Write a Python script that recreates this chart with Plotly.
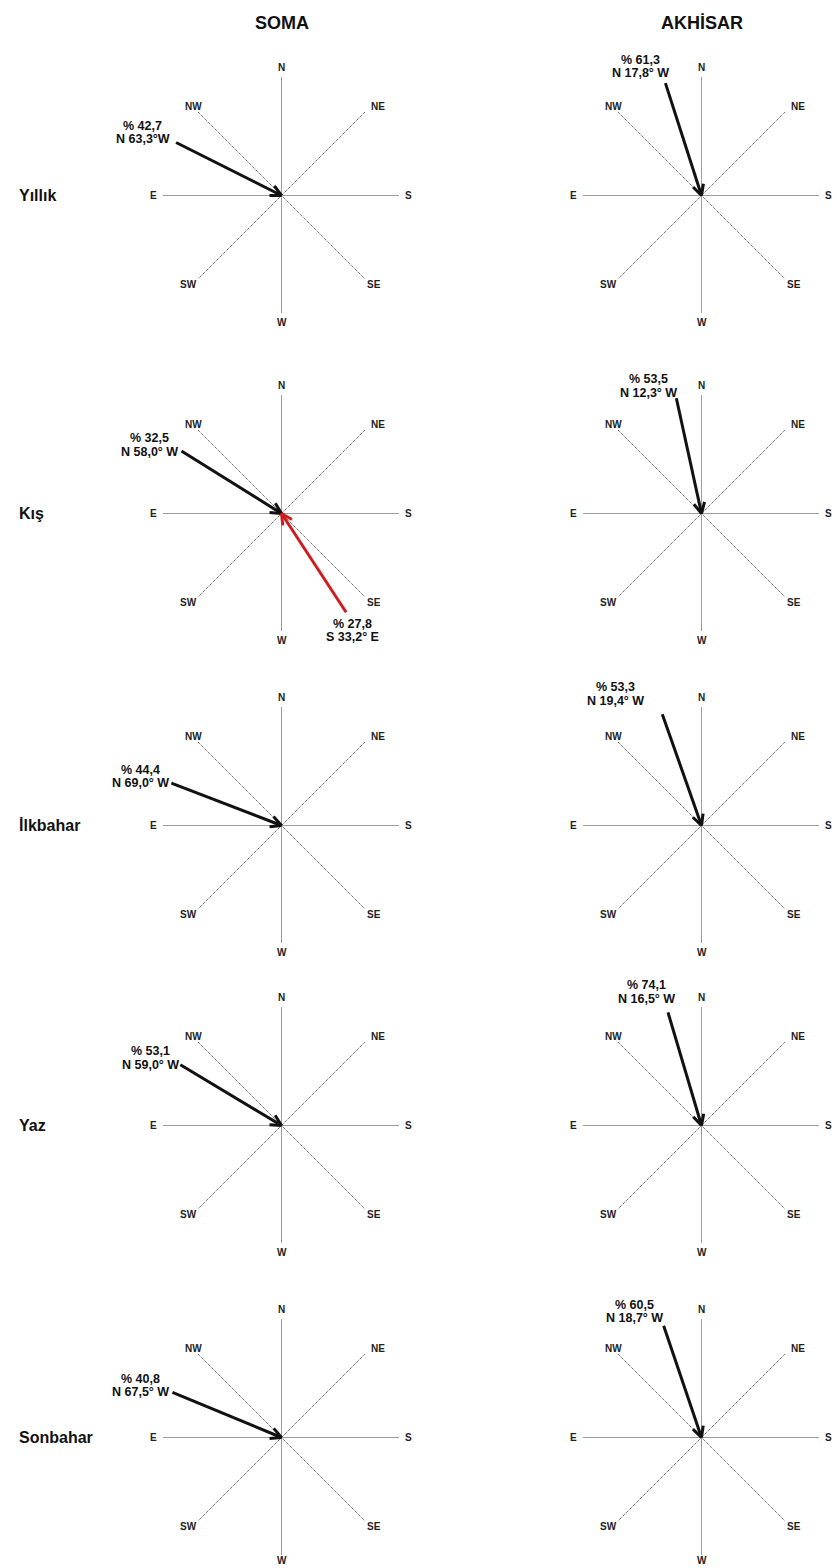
import math
import plotly.graph_objects as go

# ---------------- data ----------------
stations = ["SOMA", "AKHİSAR"]
seasons = ["Yıllık", "Kış", "İlkbahar", "Yaz", "Sonbahar"]
compass_labels = ["N", "NE", "S", "SE", "W", "SW", "E", "NW"]

soma_pct = [42.7, 32.5, 44.4, 53.1, 40.8]
soma_angle = [63.3, 58.0, 69.0, 59.0, 67.5]
soma_bearing = ["N 63,3°W", "N 58,0° W", "N 69,0° W", "N 59,0° W", "N 67,5° W"]

akhisar_pct = [61.3, 53.5, 53.3, 74.1, 60.5]
akhisar_angle = [17.8, 12.3, 19.4, 16.5, 18.7]
akhisar_bearing = ["N 17,8° W", "N 12,3° W", "N 19,4° W", "N 16,5° W", "N 18,7° W"]

# secondary wind (red) for Soma, Kış
soma_kis_second_pct = 27.8
soma_kis_second_angle = 33.2
soma_kis_second_bearing = "S 33,2° E"

# ---------------- layout constants ----------------
W, H = 837, 1568
PX = 118.0                      # compass radius in px
col_cx = [281.5, 701.5]
row_cy = [195.5, 513.5, 825.5, 1125.5, 1437.5]
HW, HH = 130, 125

# compass label offsets in px (screen: +x right, +y down)
label_off = {"N": (0, -128), "NE": (96.5, -89), "S": (126.5, 0), "SE": (92.3, 89),
             "W": (0, 127), "SW": (-93.5, 89), "E": (-128.3, 0), "NW": (-88.3, -89.5)}
# spokes (unit vectors, y up)
s2 = 1 / math.sqrt(2)
spokes = [((0, 1), (0, -1)), ((-1, 0), (1, 0)), ((-s2, s2), (s2, -s2)), ((s2, s2), (-s2, -s2))]

# text block shifts relative to arrow tail (px): block-center dx, second-line dy
soma_shift = [(-33.3, -3.4), (-31.9, 1), (-30.4, 0), (-30.2, 0), (-31.5, 0)]
akhisar_shift = [(-25.4, -10), (-28.3, -5.6), (-47.2, -13.3), (-21.4, -13.4), (-28.9, -7.3)]
red_shift = (6.3, 25)
LINE_GAP = 13.5

FONT = "Liberation Sans, Arial, sans-serif"
BLACK = "#111111"
RED = "#d01c1c"

fig = go.Figure()
annotations = []


def fmt_pct(p):
    return "% " + f"{p:.1f}".replace(".", ",")


def add_arrow(k, tail, color):
    tx, ty = tail
    L = math.hypot(tx, ty)
    ux, uy = tx / L, ty / L
    arm = 12 / PX
    xs = [tx, 0]
    ys = [ty, 0]
    for sgn in (1, -1):
        a = math.radians(27 * sgn)
        rx = ux * math.cos(a) - uy * math.sin(a)
        ry = ux * math.sin(a) + uy * math.cos(a)
        xs += [None, 0, rx * arm]
        ys += [None, 0, ry * arm]
    fig.add_trace(go.Scatter(x=xs, y=ys, mode="lines",
                             line=dict(color=color, width=3),
                             xaxis=f"x{k}", yaxis=f"y{k}", hoverinfo="skip", showlegend=False))


def add_text(k, tail, shift, line1, line2):
    dx, dy2 = shift
    for txt, dy in ((line1, dy2 - LINE_GAP), (line2, dy2)):
        annotations.append(dict(xref=f"x{k}", yref=f"y{k}", x=tail[0], y=tail[1],
                                xshift=dx, yshift=-dy, text=txt, showarrow=False,
                                xanchor="center", yanchor="middle",
                                font=dict(family=FONT, size=12.5, color=BLACK, weight="bold")))


for r in range(5):
    for c in range(2):
        k = r * 2 + c + 1
        cx, cy = col_cx[c], row_cy[r]
        fig.update_layout({
            f"xaxis{k}": dict(domain=[(cx - HW) / W, (cx + HW) / W], range=[-HW / PX, HW / PX],
                              visible=False, fixedrange=True),
            f"yaxis{k}": dict(domain=[1 - (cy + HH) / H, 1 - (cy - HH) / H], range=[-HH / PX, HH / PX],
                              visible=False, fixedrange=True),
        })
        # compass spokes
        xs, ys = [], []
        for (a, b) in spokes:
            xs += [a[0], b[0], None]
            ys += [a[1], b[1], None]
        fig.add_trace(go.Scatter(x=xs, y=ys, mode="lines",
                                 line=dict(color="#3a3a3a", width=1, dash="1px,1px"),
                                 xaxis=f"x{k}", yaxis=f"y{k}", hoverinfo="skip", showlegend=False))
        # compass labels
        for l in compass_labels:
            ox, oy = label_off[l]
            oy = min(oy, H - 8 - cy)   # keep bottom label inside the page
            annotations.append(dict(xref=f"x{k}", yref=f"y{k}", x=0, y=0,
                                    xshift=ox, yshift=-oy,
                                    text=l, showarrow=False, xanchor="center", yanchor="middle",
                                    font=dict(family=FONT, size=10, color="#222222", weight="bold")))
        if c == 0:
            ang, pct, bear, sh = soma_angle[r], soma_pct[r], soma_bearing[r], soma_shift[r]
        else:
            ang, pct, bear, sh = akhisar_angle[r], akhisar_pct[r], akhisar_bearing[r], akhisar_shift[r]
        a = math.radians(ang)
        tail = (-math.sin(a), math.cos(a))
        add_arrow(k, tail, BLACK)
        add_text(k, tail, sh, fmt_pct(pct), bear)
        if c == 0 and r == 1:
            a2 = math.radians(soma_kis_second_angle)
            tail2 = (math.sin(a2), -math.cos(a2))
            add_arrow(k, tail2, RED)
            add_text(k, tail2, red_shift, fmt_pct(soma_kis_second_pct), soma_kis_second_bearing)

# column titles
for c, name in enumerate(stations):
    annotations.append(dict(xref="paper", yref="paper", x=col_cx[c] / W, y=1 - 23 / H, text=name,
                            showarrow=False, xanchor="center", yanchor="middle",
                            font=dict(family=FONT, size=18, color=BLACK, weight="bold")))
# row labels
for r, name in enumerate(seasons):
    annotations.append(dict(xref="paper", yref="paper", x=17 / W, y=1 - row_cy[r] / H, text=name,
                            showarrow=False, xanchor="left", yanchor="middle",
                            font=dict(family=FONT, size=16, color=BLACK, weight="bold")))

fig.update_layout(width=W, height=H, margin=dict(l=0, r=0, t=0, b=0),
                  paper_bgcolor="white", plot_bgcolor="rgba(0,0,0,0)",
                  showlegend=False, annotations=annotations)

fig.write_html("out.html", config={"displayModeBar": False},
               post_script="document.body.style.margin='0';document.body.style.overflow='hidden';")
